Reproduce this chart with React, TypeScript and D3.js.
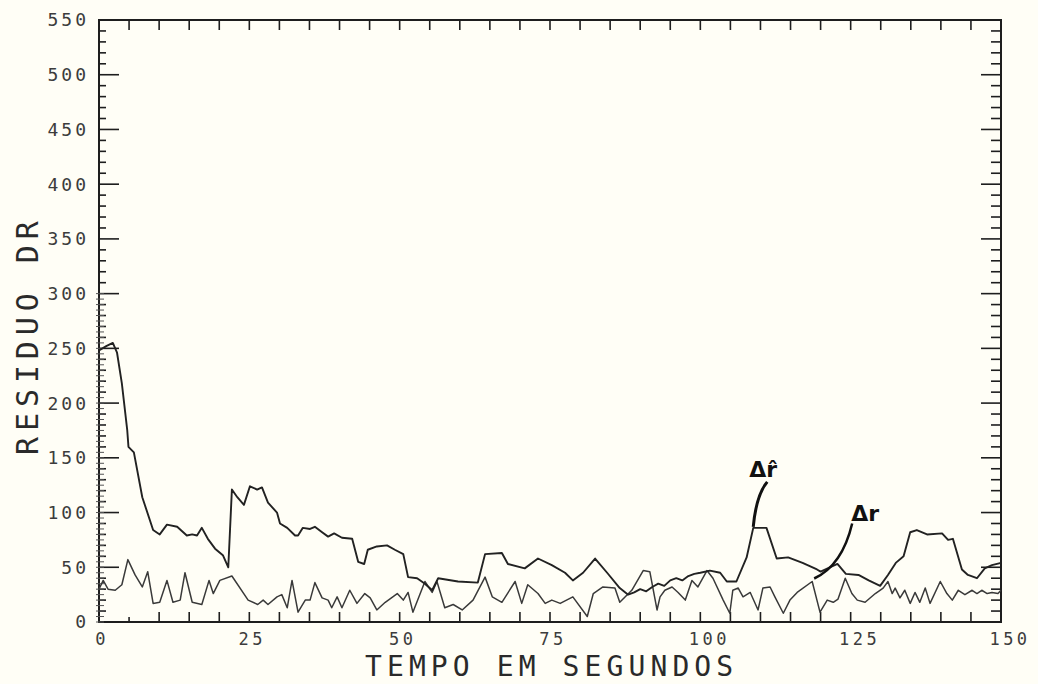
import React from "react";
import * as d3 from "d3";

// Residual Δr̂ (smoothed) — time in seconds, value
const rHatTime = [0, 1.2, 2.3, 3.0, 3.8, 4.7, 4.9, 5.8, 7.2, 9.0, 10.1, 11.3, 13.0, 14.6, 15.5, 16.3, 17.1, 18.1, 19.3, 20.6, 21.5, 22.1, 23.0, 24.1, 25.1, 26.3, 27.1, 28.1, 29.6, 30.1, 31.3, 32.6, 33.1, 33.9, 35.1, 35.9, 37.1, 38.1, 39.1, 40.4, 42.1, 43.1, 44.1, 44.7, 46.2, 47.9, 49.2, 50.6, 51.4, 52.9, 54.2, 55.4, 56.4, 59.7, 63.0, 64.2, 67.0, 68.0, 70.8, 73.0, 75.3, 77.5, 78.8, 80.5, 82.5, 84.5, 86.6, 88, 89, 90, 91, 92, 93, 94, 95, 96, 97, 98, 99, 100, 101.6, 103.3, 104.4, 106.0, 107.7, 108.8, 111.0, 112.7, 114.6, 117.0, 119.4, 120.0, 122.8, 124.2, 126.3, 128.0, 129.9, 131.2, 132.5, 133.8, 134.9, 136.0, 137.7, 140.2, 141.2, 142.0, 143.5, 144.5, 146.0, 147.3, 148.5, 150];
const rHatValue = [248, 252, 255, 246, 218, 175, 160, 155, 114, 84, 80, 89, 87, 79, 80, 79, 86, 76, 67, 61, 50, 121, 114, 107, 124, 121, 123, 109, 100, 90, 86, 79, 79, 86, 85, 87, 82, 78, 81, 77, 76, 55, 53, 66, 69, 70, 66, 62, 41, 40, 35, 29, 40, 37, 36, 62, 63, 53, 49, 58, 52, 45, 38, 45, 58, 45, 31, 25, 27, 30, 28, 32, 35, 33, 38, 40, 38, 42, 44, 45, 47, 45, 37, 37, 59, 86, 86, 58, 59, 54, 48, 46, 53, 44, 43, 38, 33, 43, 54, 60, 82, 84, 80, 81, 75, 76, 48, 43, 40, 49, 52, 54];

// Residual Δr (raw) — time in seconds, value
const rTime = [0, 0.7, 1.5, 2.7, 3.8, 4.8, 6.0, 7.2, 8.1, 9.0, 10.1, 11.3, 12.3, 13.5, 14.3, 15.5, 17.1, 18.3, 19.0, 20.1, 22.1, 24.8, 26.4, 27.3, 28.1, 29.6, 30.4, 31.3, 32.1, 33.1, 34.3, 35.1, 35.9, 37.1, 38.1, 38.7, 39.6, 40.4, 41.7, 42.9, 44.2, 45.1, 46.2, 47.6, 49.6, 50.6, 51.4, 52.2, 54.2, 55.4, 56.2, 57.5, 58.9, 60.4, 62.2, 64.2, 65.4, 67.0, 69.2, 70.3, 71.3, 73.0, 74.2, 75.3, 76.7, 78.8, 81.2, 82.2, 83.8, 85.8, 86.6, 88.6, 90.5, 91.6, 92.8, 93.3, 94.1, 95.3, 96.3, 97.5, 98.6, 99.6, 101.1, 102.1, 103.8, 104.9, 105.4, 106.3, 107.1, 108.3, 109.6, 110.4, 111.6, 112.4, 113.8, 114.9, 116.1, 118.6, 119.9, 121.1, 122.1, 122.9, 124.1, 125.2, 126.1, 127.4, 129.1, 130.4, 131.2, 131.9, 132.4, 133.2, 134.0, 134.9, 135.7, 136.5, 137.4, 138.2, 139.9, 141.0, 141.9, 142.9, 144.0, 145.2, 146.0, 146.8, 147.7, 148.5, 149.5, 150];
const rValue = [30, 38, 30, 29, 34, 57, 43, 32, 46, 17, 18, 38, 18, 20, 45, 18, 16, 38, 26, 38, 42, 20, 16, 20, 16, 23, 25, 13, 38, 9, 20, 20, 36, 22, 20, 13, 23, 13, 29, 17, 26, 22, 11, 18, 26, 20, 27, 9, 37, 27, 37, 13, 16, 11, 20, 41, 23, 18, 37, 17, 34, 26, 17, 20, 17, 23, 5, 26, 32, 31, 18, 29, 47, 46, 11, 23, 29, 32, 27, 20, 38, 32, 47, 40, 20, 8, 29, 31, 23, 27, 11, 31, 32, 23, 8, 20, 27, 37, 9, 20, 18, 21, 40, 26, 20, 18, 26, 31, 37, 26, 31, 22, 29, 17, 27, 18, 31, 17, 37, 26, 20, 29, 25, 29, 26, 29, 26, 27, 26, 29];

// Axis ticks
const xTickLabels = [0, 25, 50, 75, 100, 125, 150];
const yTickLabels = [0, 50, 100, 150, 200, 250, 300, 350, 400, 450, 500, 550];

// Annotation anchors: label, time, value the pointer ends at
const annotationNames = ["Δr\u0302", "Δr"];
const annotationTime = [108.8, 118.6];
const annotationValue = [86, 37];

const W = 1038;
const H = 684;
const ink = "#1e1e1e";
const mono = "'DejaVu Sans Mono', monospace";

export default function App() {
  const x = d3.scaleLinear().domain([0, 150]).range([99, 1001]);
  const y = d3.scaleLinear().domain([0, 550]).range([622, 20]);

  const line = d3
    .line<[number, number]>()
    .x((d) => x(d[0]))
    .y((d) => y(d[1]));

  const rHat = rHatTime.map((t, i) => [t, rHatValue[i]] as [number, number]);
  const r = rTime.map((t, i) => [t, rValue[i]] as [number, number]);

  const xMinor = d3.range(0, 151, 5);
  const yMinor = d3.range(0, 551, 10);
  const yDense = d3.range(0, 301, 5);

  const [x0, x1] = x.range();
  const [y0, y1] = y.range();

  // pointer curves for the two labels
  const hatEnd = [x(annotationTime[0]), y(annotationValue[0]) - 1];
  const rEnd = [x(annotationTime[1]) + 2, y(annotationValue[1]) - 3];

  return (
    <svg
      width={W}
      height={H}
      style={{ position: "absolute", left: 0, top: 0, display: "block" }}
    >
      <rect width={W} height={H} fill="#fffef6" />

      {/* frame */}
      <rect x={x0} y={y1} width={x1 - x0} height={y0 - y1} fill="none" stroke={ink} strokeWidth={2} />

      {/* bottom and top ticks */}
      {xMinor.map((t) => (
        <g key={"xt" + t}>
          <line x1={x(t)} x2={x(t)} y1={y0} y2={y0 - (t === 5 ? 5 : 10)} stroke={ink} strokeWidth={1.6} />
          <line x1={x(t)} x2={x(t)} y1={y1} y2={y1 + 10} stroke={ink} strokeWidth={1.6} />
        </g>
      ))}

      {/* left and right ticks */}
      {yMinor.map((v) => {
        const major = v % 50 === 0;
        return (
          <g key={"yt" + v}>
            <line x1={x0} x2={x0 + (major ? 20 : 7)} y1={y(v)} y2={y(v)} stroke={ink} strokeWidth={1.6} />
            <line x1={x1} x2={x1 - (major ? 20 : 10)} y1={y(v)} y2={y(v)} stroke={ink} strokeWidth={1.6} />
          </g>
        );
      })}
      {yDense.map((v) => (
        <line key={"yd" + v} x1={x0 - 3} x2={x0 + 5} y1={y(v)} y2={y(v)} stroke="#555" strokeWidth={1} />
      ))}

      {/* tick labels */}
      {yTickLabels.map((v) => (
        <text
          key={"yl" + v}
          x={89}
          y={y(v)}
          dy="0.36em"
          textAnchor="end"
          fontFamily={mono}
          fontSize={18}
          letterSpacing={3}
          fill="#3c3c3c"
        >
          {v}
        </text>
      ))}
      {xTickLabels.map((v) => {
        const s = String(v);
        return (
          <text
            key={"xl" + v}
            x={x(v) + (s.length === 3 ? 9 : 3)}
            y={645}
            textAnchor="middle"
            fontFamily={mono}
            fontSize={17}
            letterSpacing={3.5}
            fill="#3c3c3c"
          >
            {s}
          </text>
        );
      })}

      {/* axis titles */}
      <text x={365} y={676} fontFamily={mono} fontSize={28} letterSpacing={5.1} fill="#2a2a2a">
        TEMPO EM SEGUNDOS
      </text>
      <text
        transform="translate(38,455) rotate(-90)"
        fontFamily={mono}
        fontSize={30}
        letterSpacing={5.9}
        fill="#2a2a2a"
      >
        RESIDUO DR
      </text>

      {/* series */}
      <path d={line(r) ?? ""} fill="none" stroke="#3a3a3a" strokeWidth={1.5} strokeLinejoin="round" />
      <path d={line(rHat) ?? ""} fill="none" stroke="#222" strokeWidth={1.9} strokeLinejoin="round" />

      {/* annotations */}
      <path
        d={`M${hatEnd[0] + 14},${hatEnd[1] - 45} Q${hatEnd[0] + 3},${hatEnd[1] - 32} ${hatEnd[0]},${hatEnd[1]}`}
        fill="none"
        stroke="#111"
        strokeWidth={3}
      />
      <text
        x={hatEnd[0] - 4}
        y={hatEnd[1] - 50}
        fontFamily="'DejaVu Sans', sans-serif"
        fontWeight="bold"
        fontSize={22}
        fill="#111"
      >
        {annotationNames[0]}
      </text>
      <path
        d={`M${rEnd[0] + 38},${rEnd[1] - 55} Q${rEnd[0] + 28},${rEnd[1] - 13} ${rEnd[0]},${rEnd[1]}`}
        fill="none"
        stroke="#111"
        strokeWidth={2.5}
      />
      <text
        x={rEnd[0] + 37}
        y={rEnd[1] - 58}
        fontFamily="'DejaVu Sans', sans-serif"
        fontWeight="bold"
        fontSize={22}
        fill="#111"
      >
        {annotationNames[1]}
      </text>
    </svg>
  );
}
